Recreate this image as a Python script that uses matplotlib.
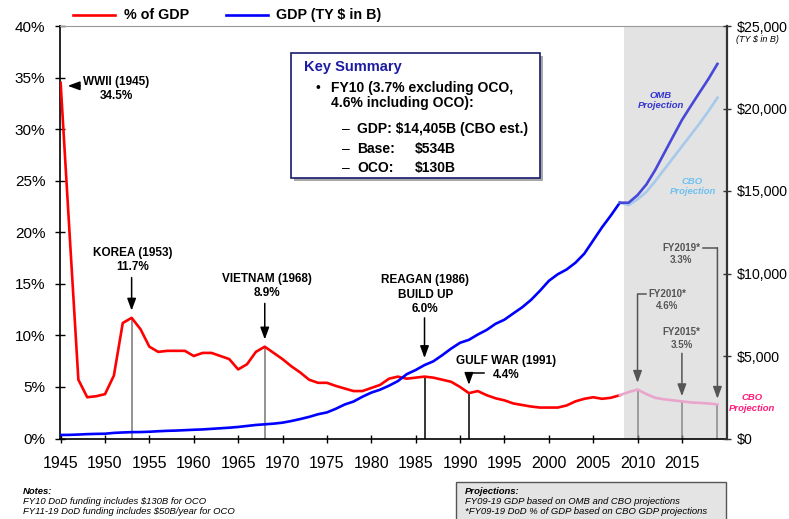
import matplotlib
matplotlib.use('Agg')
import matplotlib.pyplot as plt
from matplotlib.patches import Rectangle
from matplotlib.lines import Line2D

# ---------------- data ----------------
years_hist = list(range(1945, 2009))
pct_hist = [34.5, 20.0, 5.7, 4.0, 4.1, 4.3, 6.1, 11.2, 11.7, 10.6,
            8.9, 8.4, 8.5, 8.5, 8.5, 8.0, 8.3, 8.3, 8.0, 7.7,
            6.7, 7.2, 8.4, 8.9, 8.3, 7.7, 7.0, 6.4, 5.7, 5.4,
            5.4, 5.1, 4.85, 4.6, 4.6, 4.9, 5.2, 5.8, 6.0, 5.8,
            5.9, 6.0, 5.9, 5.7, 5.5, 5.0, 4.4, 4.6, 4.2, 3.9,
            3.7, 3.4, 3.25, 3.1, 3.0, 3.0, 3.0, 3.2, 3.6, 3.85,
            4.0, 3.85, 3.95, 4.2]
gdp_hist = [215, 220, 240, 265, 280, 290, 340, 365, 385, 390,
            410, 440, 465, 480, 505, 530, 550, 585, 620, 655,
            700, 760, 820, 860, 900, 960, 1060, 1180, 1310, 1470,
            1580, 1800, 2060, 2240, 2530, 2780, 2960, 3200, 3480, 3900,
            4150, 4450, 4680, 5050, 5450, 5800, 5980, 6300, 6580, 6950,
            7200, 7580, 7950, 8400, 8950, 9550, 9950, 10240, 10650, 11200,
            12000, 12800, 13520, 14290]

years_proj = list(range(2008, 2020))
pct_proj = [4.2, 4.5, 4.75, 4.3, 3.95, 3.8, 3.7, 3.6, 3.5, 3.45, 3.4, 3.3]
gdp_omb = [14290, 14290, 14750, 15400, 16280, 17290, 18300, 19300, 20150, 20980, 21800, 22700]
gdp_cbo = [14290, 14150, 14500, 14950, 15600, 16300, 17000, 17700, 18400, 19100, 19850, 20650]

x_ticks = list(range(1945, 2016, 5))
pct_ticks = list(range(0, 41, 5))
gdp_ticks = list(range(0, 25001, 5000))

# ---------------- figure ----------------
plt.rcParams['font.family'] = ['Liberation Sans', 'DejaVu Sans']
W, H = 789, 519
fig = plt.figure(figsize=(W / 100, H / 100), dpi=100)
fx = lambda px: px / W
fy = lambda py: 1 - py / H

ax = fig.add_axes([fx(60), fy(438.5), 667 / W, 412.5 / H])
ax2 = ax.twinx()
ax.set_xlim(1944.93, 2020.08)
ax.set_ylim(0, 40)
ax2.set_ylim(0, 25000)

ax.axvspan(2008.5, 2020.08, color='#E3E3E3', lw=0, zorder=0)

RED = '#FF0000'
BLUE = '#0000FF'
ax.plot(years_hist, pct_hist, color=RED, lw=1.9, zorder=3, solid_joinstyle='round')
ax.plot(years_proj, pct_proj, color='#E9A5CB', lw=1.9, zorder=3, solid_joinstyle='round')
ax2.plot(years_hist, gdp_hist, color=BLUE, lw=1.9, zorder=3, solid_joinstyle='round')
ax2.plot(years_proj, gdp_cbo, color='#A6C9EC', lw=1.9, zorder=3, solid_joinstyle='round')
ax2.plot(years_proj, gdp_omb, color='#4848D8', lw=1.9, zorder=4, solid_joinstyle='round')

# spines
for s in ['top', 'left', 'bottom', 'right']:
    ax2.spines[s].set_visible(False)
ax.spines['right'].set_visible(False)
ax.spines['top'].set_color('#999999')
ax.spines['top'].set_linewidth(0.8)
ax.spines['left'].set_linewidth(1.2)
ax.spines['bottom'].set_linewidth(1.2)
ax2.spines['right'].set_visible(True)
ax2.spines['right'].set_color('#333333')
ax2.spines['right'].set_linewidth(1.6)

ax.set_xticks(x_ticks)
ax.set_xticklabels([str(v) for v in x_ticks])
ax.tick_params(axis='x', direction='inout', length=6, width=1, labelsize=11.5, pad=9.5)
ax.set_yticks(pct_ticks)
ax.set_yticklabels([f'{v}%' for v in pct_ticks])
ax.tick_params(axis='y', direction='inout', length=7, width=1, labelsize=11, pad=7)
ax2.set_yticks(gdp_ticks)
ax2.set_yticklabels(['$0'] + [f'${v:,}' for v in gdp_ticks[1:]])
ax2.tick_params(axis='y', direction='inout', length=6, width=1, color='#333333',
                labelsize=10.2, pad=4)

def val(y):
    if y in years_hist:
        return pct_hist[years_hist.index(y)]
    return pct_proj[years_proj.index(y)]

def arrow(x0, y0, x1, y1, color='black'):
    ax.annotate('', xy=(x1, y1), xytext=(x0, y0), annotation_clip=False,
                arrowprops=dict(arrowstyle='-|>,head_length=0.6,head_width=0.22',
                                color=color, lw=1.1, shrinkA=0, shrinkB=0,
                                mutation_scale=12), zorder=6)

bold = dict(fontsize=8.5, fontweight='bold', ha='center', va='center',
            linespacing=1.25, zorder=6)

# WWII
ax.text(1951.24, 33.9, 'WWII (1945)\n34.5%', **bold)
arrow(1947.2, 34.2, 1945.8, 34.2)
# Korea
ax.text(1953.1, 17.3, 'KOREA (1953)\n11.7%', **bold)
arrow(1953, 15.6, 1953, 12.4)
ax.vlines(1953, 0, val(1953), colors='#777777', lw=1.1, zorder=2)
# Vietnam
ax.text(1968.3, 14.8, 'VIETNAM (1968)\n8.9%', **bold)
arrow(1968, 13.1, 1968, 9.6)
ax.vlines(1968, 0, val(1968), colors='#777777', lw=1.1, zorder=2)
# Reagan
ax.text(1986.1, 13.95, 'REAGAN (1986)\nBUILD UP\n6.0%', **bold)
arrow(1986, 11.7, 1986, 7.8)
ax.vlines(1986, 0, val(1986), colors='black', lw=1.1, zorder=2)
# Gulf war
ax.text(1995.2, 6.84, 'GULF WAR (1991)\n4.4%', **bold)
ax.plot([1992.7, 1991], [6.32, 6.32], color='black', lw=1.1, zorder=6)
arrow(1991, 6.32, 1991, 5.2)
ax.vlines(1991, 0, val(1991), colors='black', lw=1.1, zorder=2)

# projection annotations
GREY = '#555555'
sbold = dict(fontsize=7, fontweight='bold', ha='center', va='center',
             linespacing=1.3, color=GREY, zorder=6)
ax.text(2013.3, 13.45, 'FY2010*\n4.6%', **sbold)
ax.plot([2011.0, 2010], [14.0, 14.0], color=GREY, lw=1.1, zorder=6)
arrow(2010, 14.0, 2010, 5.4, GREY)
ax.vlines(2010, 0, val(2010), colors='#888888', lw=1.1, zorder=2)

ax.text(2014.97, 9.68, 'FY2015*\n3.5%', **sbold)
arrow(2015, 8.26, 2015, 4.1, GREY)
ax.vlines(2015, 0, val(2015), colors='#888888', lw=1.1, zorder=2)

ax.text(2014.9, 17.87, 'FY2019*\n3.3%', **sbold)
ax.plot([2017.34, 2019], [18.5, 18.5], color=GREY, lw=1.1, zorder=6)
arrow(2019, 18.5, 2019, 3.85, GREY)
ax.vlines(2019, 0, val(2019), colors='#888888', lw=1.1, zorder=2)

proj = dict(fontsize=6.8, fontweight='bold', style='italic', ha='center',
            va='center', linespacing=1.2, zorder=6)
ax.text(2012.6, 32.75, 'OMB\nProjection', color='#3434D0', **proj)
ax.text(2016.2, 24.45, 'CBO\nProjection', color='#6EC0F0', **proj)
ax.text(2022.93, 3.46, 'CBO\nProjection', color='#FF1A78', clip_on=False, **proj)

# legend (manual)
fig.add_artist(Line2D([fx(73), fx(115)], [fy(15), fy(15)], color=RED, lw=1.9))
fig.text(fx(124), fy(15), '% of GDP', fontsize=10.3, fontweight='bold', va='center')
fig.add_artist(Line2D([fx(226), fx(268)], [fy(15), fy(15)], color=BLUE, lw=1.9))
fig.text(fx(276), fy(15), 'GDP (TY $ in B)', fontsize=10.3, fontweight='bold', va='center')

fig.text(fx(736), fy(40), '(TY $ in B)', fontsize=6.5, style='italic', va='center')

# key summary box
fig.add_artist(Rectangle((fx(293.7), fy(181)), (540 - 290.7) / W, (178 - 52.7) / H,
                         transform=fig.transFigure, fc='#A8A8A8', ec='none', zorder=7))
fig.add_artist(Rectangle((fx(290.7), fy(178)), (540 - 290.7) / W, (178 - 52.7) / H,
                         transform=fig.transFigure, fc='white', ec='#1A1A70', lw=1.2, zorder=8))
kz = dict(va='center', zorder=9)
fig.text(fx(304), fy(66.7), 'Key Summary', color='#1C1CA0', fontsize=10.5, fontweight='bold', **kz)
fig.text(fx(316), fy(88.3), '\u2022', fontsize=10, **kz)
fig.text(fx(331), fy(88.3), 'FY10 (3.7% excluding OCO,', fontsize=10, fontweight='bold', **kz)
fig.text(fx(331), fy(103.3), '4.6% including OCO):', fontsize=10, fontweight='bold', **kz)
for yy, lab, amt in [(129, 'GDP: $14,405B (CBO est.)', ''), (149, 'Base:', '$534B'), (168.3, 'OCO:', '$130B')]:
    fig.text(fx(342), fy(yy), '\u2013', fontsize=10, **kz)
    fig.text(fx(357), fy(yy), lab, fontsize=10, fontweight='bold', **kz)
    if amt:
        fig.text(fx(415), fy(yy), amt, fontsize=10, fontweight='bold', **kz)

# notes
nz = dict(fontsize=6.8, style='italic', va='center')
fig.text(fx(22.7), fy(491.7), 'Notes:', fontweight='bold', **nz)
fig.text(fx(22.7), fy(501.7), 'FY10 DoD funding includes $130B for OCO', **nz)
fig.text(fx(22.7), fy(511), 'FY11-19 DoD funding includes $50B/year for OCO', **nz)

fig.add_artist(Rectangle((fx(456), -0.05), (726 - 456) / W, (1 - 481.7 / H) + 0.05,
                         transform=fig.transFigure, fc='#E4E4E4', ec='#555555', lw=1.0))
fig.text(fx(464.6), fy(491.7), 'Projections:', fontweight='bold', **nz)
fig.text(fx(464.6), fy(501.7), 'FY09-19 GDP based on OMB and CBO projections', **nz)
fig.text(fx(464.6), fy(511), '*FY09-19 DoD % of GDP based on CBO GDP projections', **nz)

fig.savefig('out.png', dpi=100)
